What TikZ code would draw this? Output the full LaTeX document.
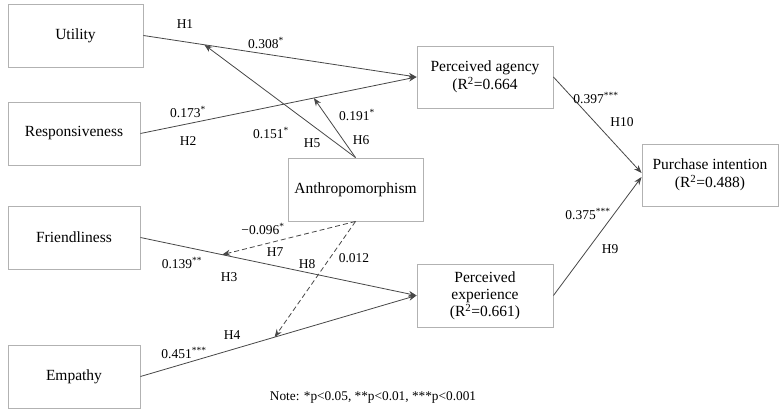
\documentclass[tikz,border=0pt]{standalone}
\usepackage{fontspec}
\setmainfont{Liberation Serif}
\usetikzlibrary{arrows.meta,calc}
\newcommand{\boxfnt}{\fontsize{15.5}{17.5}\selectfont}
\newcommand{\labfnt}{\fontsize{13.5}{15}\selectfont}
\begin{document}
\begin{tikzpicture}[x=1pt,y=-1pt,
  box/.style={draw=black!30, line width=0.9pt, fill=white, align=center, inner sep=2pt, font=\boxfnt},
  lab/.style={inner sep=0pt, font=\labfnt},
  conn/.style={draw=black!72, line width=0.8pt, -{Stealth[length=8pt,width=6pt]}},
  modline/.style={conn, dash pattern=on 5pt off 3pt}]
\useasboundingbox (0,0) rectangle (781,414);
% boxes
\node[box, minimum width=135pt, minimum height=63pt] (util) at (75.5,35.5) {Utility};
\node[box, minimum width=132pt, minimum height=63pt] (resp) at (74,133.5) {Responsiveness};
\node[box, minimum width=132pt, minimum height=63pt] (friend) at (74,237.5) {Friendliness};
\node[box, minimum width=132pt, minimum height=63pt] (emp) at (74,376.5) {Empathy};
\node[box, minimum width=135pt, minimum height=63pt] (anth) at (355.5,189.5) {Anthropomorphism};
\node[box, minimum width=136pt, minimum height=62pt] (pa) at (485,77) {Perceived agency\\(R\textsuperscript{2}=0.664};
\node[box, minimum width=136pt, minimum height=63pt, font=\fontsize{15.5}{17}\selectfont] (pe) at (485,295.5) {Perceived\\experience\\(R\textsuperscript{2}=0.661)};
\node[box, minimum width=136pt, minimum height=62pt] (pi) at (710,175) {Purchase intention\\(R\textsuperscript{2}=0.488)};
% main paths
\draw[conn] (util.east) -- (pa.west);
\draw[conn] (resp.east) -- (pa.west);
\draw[conn] (friend.east) -- (pe.west);
\draw[conn] (emp.east) -- (pe.west);
\draw[conn] (pa.east) -- ([yshift=2pt]pi.west);
\draw[conn] (pe.east) -- ([yshift=-2pt]pi.west);
% moderation targets
\coordinate (h5) at ($(util.east)!0.223!(pa.west)$);
\coordinate (h6) at ($(resp.east)!0.628!(pa.west)$);
\coordinate (h7) at ($(friend.east)!0.296!(pe.west)$);
\coordinate (h8) at ($(emp.east)!0.486!(pe.west)$);
\draw[conn] (anth.north) -- (h5);
\draw[conn] (anth.north) -- (h6);
\draw[modline] (anth.south) -- (h7);
\draw[modline] (anth.south) -- (h8);
% labels
\node[lab] (lH1) at (185,24) {H1};
\node[lab] (l1) at (266,43) {0.308\textsuperscript{*}};
\node[lab] (l2) at (188,112) {0.173\textsuperscript{*}};
\node[lab] (lH2) at (188,141) {H2};
\node[lab] (l5) at (271,133) {0.151\textsuperscript{*}};
\node[lab] (lH5) at (312,143) {H5};
\node[lab] (l6) at (357,115) {0.191\textsuperscript{*}};
\node[lab] (lH6) at (361,140) {H6};
\node[lab] (l10) at (596,98) {0.397\textsuperscript{***}};
\node[lab] (lH10) at (622,122) {H10};
\node[lab] (l9) at (588,214) {0.375\textsuperscript{***}};
\node[lab] (lH9) at (610,249) {H9};
\node[lab] (l7) at (263,229) {−0.096\textsuperscript{*}};
\node[lab] (lH7) at (275,252) {H7};
\node[lab] (lH8) at (307,264) {H8};
\node[lab] (l8) at (354,258) {0.012};
\node[lab] (l3) at (182,263) {0.139\textsuperscript{**}};
\node[lab] (lH3) at (229,277) {H3};
\node[lab] (lH4) at (232,335) {H4};
\node[lab] (l4) at (184,353) {0.451\textsuperscript{***}};
\node[lab, font=\fontsize{13.3}{15}\selectfont] (note) at (373,397) {Note: *p<0.05, **p<0.01, ***p<0.001};
\end{tikzpicture}
\end{document}
